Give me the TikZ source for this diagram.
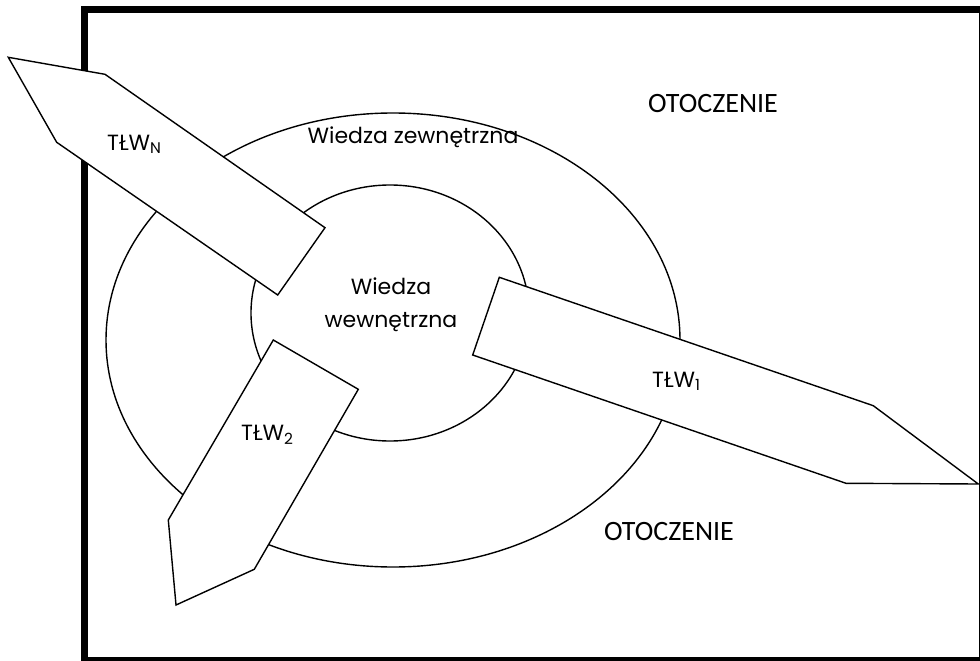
\documentclass[tikz,border=0pt]{standalone}
\usepackage{fontspec}
\setmainfont{Poppins}
\newfontfamily\envfont{Carlito}
\usetikzlibrary{shapes.geometric}
\begin{document}
\begin{tikzpicture}[x=1pt,y=-1pt,
  frame/.style={line width=7pt},
  zone/.style={draw, ellipse, line width=1.4pt, inner sep=0pt},
  tlw/.style={draw, line width=1.4pt, fill=white, line join=miter},
  lbl/.style={font=\fontsize{22}{33}\selectfont, inner sep=0pt, align=center},
  env/.style={font=\envfont\fontsize{28}{30}\selectfont, inner sep=0pt}]
\useasboundingbox (0,0) rectangle (980,661);
\clip (0,0) rectangle (980,661);
% outer frame, partly running off the page
\draw[frame] (84.5,9.5) rectangle (982.5,660.5);
% knowledge zones
\node[zone, minimum width=574pt, minimum height=454pt] (outer) at (393,340) {};
\node[zone, minimum width=278pt, minimum height=256pt] (inner) at (390,313) {};
% transfer arrows
\draw[tlw] (8.3,57.3) -- (105,74.3) -- (325,227.7) -- (277.7,295) -- (56.7,142.3) -- cycle;
\draw[tlw] (273.3,340) -- (358.3,389.3) -- (254.3,569.3) -- (176,605) -- (168.3,520) -- cycle;
\draw[tlw] (499.3,277.3) -- (873.3,405.7) -- (978.3,484) -- (846,483.3) -- (472.7,355) -- cycle;
% labels
\node[lbl] (ext) at (413,137) {Wiedza zewnętrzna};
\node[lbl] (int) at (391,305) {Wiedza\\wewnętrzna};
\node[env] (envtop) at (713,104) {OTOCZENIE};
\node[env] (envbot) at (669,532) {OTOCZENIE};
\node[lbl, anchor=base west] (tn) at (107,150) {TŁW\textsubscript{N}};
\node[lbl, anchor=base west] (t2) at (241,440) {TŁW\textsubscript{2}};
\node[lbl, anchor=base west] (t1) at (652,387) {TŁW\textsubscript{1}};
\end{tikzpicture}
\end{document}
